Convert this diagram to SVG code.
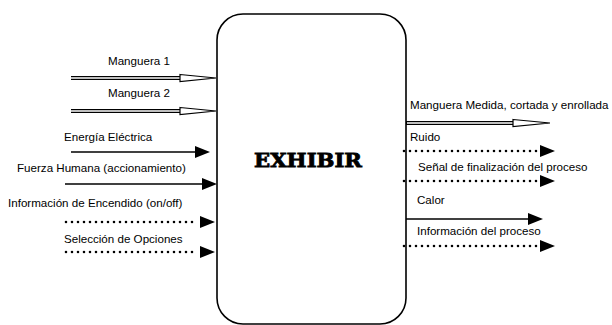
<svg xmlns="http://www.w3.org/2000/svg" width="612" height="325" viewBox="0 0 612 325">
<style>
text{font-family:"Liberation Sans",Arial,sans-serif;font-size:11.6px;fill:#000}
.solid{stroke:#000;stroke-width:1.6;fill:none}
.dot{stroke:#000;stroke-width:2.6;stroke-linecap:round;stroke-dasharray:0 6;fill:none}
.dblo{stroke:#000;stroke-width:4.2;fill:none}
.dbli{stroke:#fff;stroke-width:1.6;fill:none}
.head{fill:#000}
.hollow{fill:#fff;stroke:#000;stroke-width:1.2}
</style>
<rect width="612" height="325" fill="#fff"/>
<g id="exhibir">
<rect x="217" y="14" width="189" height="310" rx="26" ry="26" fill="#fff" stroke="#000" stroke-width="1.6"/>
<text x="308" y="167" text-anchor="middle" style="font-family:'DejaVu Serif',serif;font-weight:bold;font-size:19px;stroke:#000;stroke-width:0.8" textLength="108" lengthAdjust="spacingAndGlyphs">EXHIBIR</text>
</g>
<g id="connectors">
<path class="dblo" d="M71 78H182"/><path class="dbli" d="M71 78H184"/>
<path class="hollow" d="M180 74.5L216 78L180 81.5Z"/>
<path class="dblo" d="M71 111H182"/><path class="dbli" d="M71 111H184"/>
<path class="hollow" d="M180 107.5L216 111L180 114.5Z"/>
<path class="solid" d="M71 152H197"/><path class="head" d="M195 146L210 152L195 158Z"/>
<path class="solid" d="M65 184H203"/><path class="head" d="M202 178L217 184L202 190Z"/>
<path class="dot" d="M66 222H198"/><path class="head" d="M200 216L215 222L200 228Z"/>
<path class="dot" d="M66 252H198"/><path class="head" d="M200 246L215 252L200 258Z"/>
<path class="dblo" d="M406 123H515"/><path class="dbli" d="M407 123H517"/>
<path class="hollow" d="M513 119.5L550 123L513 126.5Z"/>
<path class="dot" d="M404 151H538"/><path class="head" d="M540 145L555 151L540 157Z"/>
<path class="dot" d="M404 181H538"/><path class="head" d="M540 175L555 181L540 187Z"/>
<path class="solid" d="M406 219H530"/><path class="head" d="M528 213L543 219L528 225Z"/>
<path class="dot" d="M404 246H538"/><path class="head" d="M540 240L555 246L540 252Z"/>
</g>
<g id="labels">
<text x="108" y="65">Manguera 1</text>
<text x="108" y="97">Manguera 2</text>
<text x="64" y="141">Energía Eléctrica</text>
<text x="17" y="172">Fuerza Humana (accionamiento)</text>
<text x="8" y="207">Información de Encendido (on/off)</text>
<text x="64" y="243">Selección de Opciones</text>
<text x="410" y="109">Manguera Medida, cortada y enrollada</text>
<text x="410" y="141">Ruido</text>
<text x="418" y="171">Señal de finalización del proceso</text>
<text x="417" y="204">Calor</text>
<text x="417" y="235">Información del proceso</text>
</g>
</svg>
